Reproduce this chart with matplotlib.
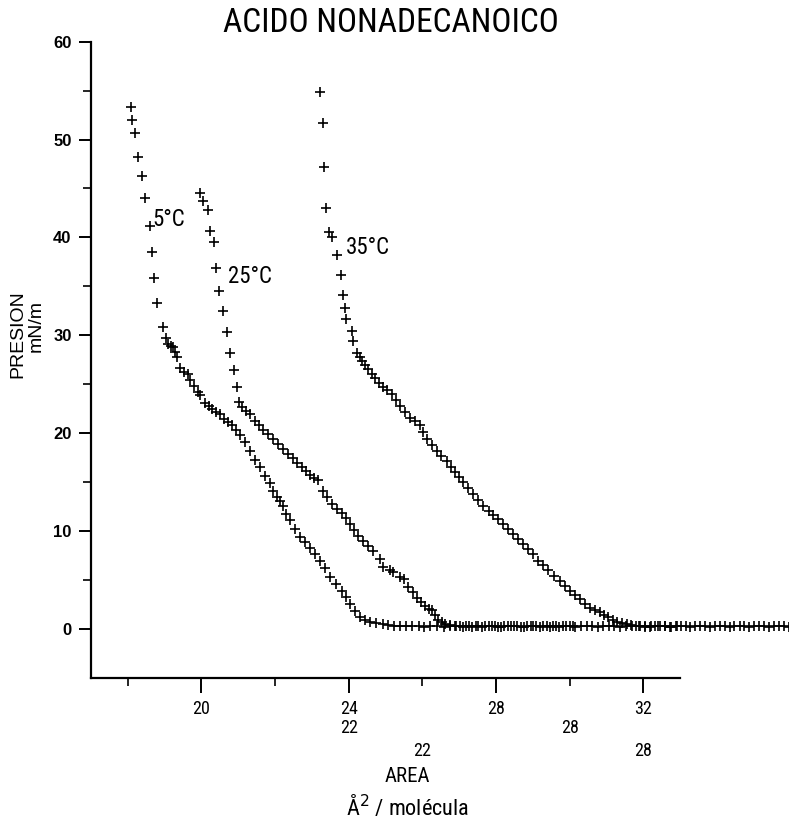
import matplotlib
matplotlib.use("Agg")
import matplotlib.pyplot as plt
from matplotlib import font_manager
from matplotlib.font_manager import FontProperties
from matplotlib.ticker import FixedLocator

# ---------------- data ----------------
area_5 = [18.08, 18.12, 18.19, 18.27, 18.38, 18.46, 18.60, 18.67, 18.71, 18.78,
          18.95, 19.04, 19.10, 19.16, 19.22, 19.28, 19.33, 19.42, 19.52, 19.64,
          19.69, 19.80, 19.90, 19.96, 20.10, 20.20, 20.28, 20.40, 20.50, 20.62,
          20.72, 20.82, 20.95, 21.05, 21.18, 21.32, 21.45, 21.59, 21.72, 21.86,
          21.95, 22.04, 22.13, 22.22, 22.31, 22.40, 22.55, 22.68, 22.80, 22.95,
          23.08, 23.22, 23.35, 23.49, 23.65, 23.81, 23.92, 24.04, 24.18, 24.31,
          24.45, 24.58, 24.75, 24.93]
pres_5 = [53.3, 52.0, 50.7, 48.2, 46.3, 44.0, 41.2, 38.5, 35.9, 33.3,
          30.9, 29.7, 29.1, 28.9, 28.8, 28.3, 27.8, 26.7, 26.3, 26.1,
          25.4, 24.8, 24.2, 23.9, 23.1, 22.8, 22.5, 22.2, 22.0, 21.5,
          21.1, 20.8, 20.3, 19.8, 19.1, 18.2, 17.3, 16.5, 15.6, 14.9,
          14.1, 13.5, 13.1, 12.6, 11.8, 11.1, 10.2, 9.4, 8.9, 8.3,
          7.7, 7.0, 6.2, 5.3, 4.6, 3.9, 3.3, 2.6, 1.8, 1.2,
          0.9, 0.7, 0.6, 0.5]
base_area_5 = [25.08, 25.22, 25.40, 25.55, 25.72, 25.90, 26.05, 26.22, 26.40, 26.58,
               26.75, 26.92, 27.10, 27.28, 27.45, 27.62, 27.80, 27.98, 28.15, 28.32,
               28.50, 28.68, 28.85, 29.02, 29.20, 29.38, 29.55, 29.72, 29.90, 30.08]
base_pres_5 = [0.4, 0.3, 0.3, 0.35, 0.3, 0.3, 0.25, 0.3, 0.3, 0.25,
               0.3, 0.3, 0.25, 0.3, 0.3, 0.25, 0.3, 0.3, 0.25, 0.3,
               0.3, 0.25, 0.3, 0.3, 0.25, 0.3, 0.3, 0.25, 0.3, 0.3]

area_25 = [19.96, 20.05, 20.18, 20.23, 20.34, 20.39, 20.48, 20.59, 20.70, 20.77,
           20.88, 20.97, 21.03, 21.09, 21.20, 21.32, 21.45, 21.56, 21.68, 21.80,
           21.95, 22.08, 22.22, 22.35, 22.49, 22.60, 22.72, 22.84, 22.95, 23.06,
           23.17, 23.31, 23.42, 23.54, 23.68, 23.81, 23.92, 24.04, 24.15, 24.26,
           24.40, 24.53, 24.67, 24.85, 24.94, 25.12, 25.21, 25.39, 25.50, 25.62,
           25.74, 25.85, 25.96, 26.07, 26.17, 26.26, 26.35, 26.43, 26.53, 26.62]
pres_25 = [44.5, 43.7, 42.8, 40.7, 39.5, 36.9, 34.5, 32.5, 30.3, 28.2,
           26.5, 24.7, 23.2, 22.7, 22.3, 22.0, 21.3, 20.8, 20.3, 19.9,
           19.4, 18.9, 18.4, 17.9, 17.5, 17.0, 16.5, 16.1, 15.7, 15.4,
           15.2, 14.1, 13.5, 12.8, 12.3, 11.9, 11.3, 10.7, 10.1, 9.5,
           9.0, 8.5, 8.0, 7.2, 6.3, 6.0, 5.8, 5.3, 5.1, 4.3,
           3.8, 3.2, 2.8, 2.4, 2.0, 1.9, 1.4, 0.9, 0.7, 0.5]
base_area_25 = [26.75, 26.88, 27.02, 27.18, 27.35, 27.52, 27.70, 27.88, 28.05, 28.22,
                28.40, 28.58, 28.76, 28.94, 29.10, 29.28, 29.46, 29.64, 29.82, 30.00,
                30.16, 30.32, 30.48, 30.62, 30.78, 30.92, 31.08, 31.22, 31.38, 31.52,
                31.70, 31.88, 32.05, 32.22, 32.40, 32.58, 32.75, 32.92]
base_pres_25 = [0.4, 0.3, 0.35, 0.3, 0.25, 0.3, 0.35, 0.3, 0.25, 0.3,
                0.35, 0.3, 0.25, 0.3, 0.35, 0.3, 0.25, 0.3, 0.35, 0.3,
                0.25, 0.3, 0.35, 0.3, 0.25, 0.3, 0.35, 0.3, 0.25, 0.3,
                0.35, 0.3, 0.25, 0.3, 0.35, 0.3, 0.25, 0.3]

area_35 = [23.22, 23.31, 23.34, 23.38, 23.47, 23.54, 23.67, 23.78, 23.85, 23.90,
           23.94, 24.08, 24.12, 24.23, 24.30, 24.35, 24.44, 24.53, 24.62, 24.71,
           24.82, 24.94, 25.05, 25.17, 25.28, 25.39, 25.53, 25.67, 25.80, 25.94,
           26.03, 26.12, 26.25, 26.39, 26.52, 26.66, 26.78, 26.89, 27.00, 27.11,
           27.25, 27.39, 27.52, 27.66, 27.80, 27.93, 28.06, 28.20, 28.33, 28.47,
           28.60, 28.74, 28.88, 29.02, 29.15, 29.28, 29.42, 29.58, 29.74, 29.88,
           30.01, 30.15, 30.29, 30.42, 30.56, 30.70, 30.83, 30.94, 31.05, 31.17,
           31.28, 31.42, 31.55]
pres_35 = [54.9, 51.7, 47.2, 43.0, 40.6, 40.0, 38.2, 36.2, 34.1, 32.8,
           31.7, 30.4, 29.4, 28.2, 27.8, 27.4, 27.0, 26.6, 26.1, 25.6,
           25.1, 24.7, 24.4, 24.0, 23.4, 22.8, 22.2, 21.6, 21.2, 20.8,
           20.1, 19.4, 18.8, 18.2, 17.7, 17.2, 16.6, 16.0, 15.5, 15.0,
           14.4, 13.8, 13.2, 12.6, 12.1, 11.6, 11.2, 10.7, 10.2, 9.7,
           9.2, 8.7, 8.2, 7.7, 7.0, 6.5, 6.0, 5.4, 4.9, 4.4,
           3.9, 3.5, 3.1, 2.6, 2.2, 1.9, 1.7, 1.4, 1.2, 0.9,
           0.7, 0.6, 0.5]
base_area_35 = [31.68, 31.80, 31.92, 32.05, 32.18, 32.32, 32.45, 32.60, 32.74, 32.88,
                33.02, 33.15, 33.28, 33.42, 33.55, 33.68, 33.82, 33.95, 34.08, 34.22,
                34.35, 34.48, 34.62, 34.75, 34.88, 35.02, 35.15, 35.28, 35.42, 35.55,
                35.68, 35.82, 35.95]
base_pres_35 = [0.4, 0.35, 0.3, 0.3, 0.25, 0.35, 0.3, 0.3, 0.25, 0.35,
                0.3, 0.3, 0.25, 0.35, 0.3, 0.3, 0.25, 0.35, 0.3, 0.3,
                0.25, 0.35, 0.3, 0.3, 0.25, 0.35, 0.3, 0.3, 0.25, 0.35,
                0.3, 0.3, 0.25]

curve_labels = ["5°C", "25°C", "35°C"]
label_pos = [(18.68, 41.8), (20.72, 36.0), (23.92, 39.0)]

x_major = [20, 24, 28, 32]
x_minor = [18, 22, 26, 30]
y_major = [0, 10, 20, 30, 40, 50, 60]
y_minor = [5, 15, 25, 35, 45, 55]
# stray tick labels of the overlaid scales
extra_x_labels = ["22", "28", "22", "28"]
extra_x_pos = [24.0, 30.0, 26.0, 32.0]
extra_x_rows = [1, 1, 2, 2]

title = "ACIDO NONADECANOICO"

# ---------------- fonts ----------------
def pick_condensed():
    prefs = ["Liberation Sans Narrow", "Roboto Condensed", "Open Sans Condensed",
             "Arial Narrow"]
    fl = font_manager.fontManager.ttflist
    for p in prefs:
        for f in fl:
            if f.name == p and f.weight in (400, "normal", "regular") and f.style == "normal":
                return FontProperties(fname=f.fname), 1.0
    for f in fl:
        if f.name == "DejaVu Sans" and "Condensed" in f.fname and "Bold" not in f.fname \
                and "Oblique" not in f.fname:
            return FontProperties(fname=f.fname), 0.93
    for f in fl:
        if ("Condensed" in f.fname or "Narrow" in f.fname) and "Bold" not in f.fname \
                and "Italic" not in f.fname and "Oblique" not in f.fname:
            return FontProperties(fname=f.fname), 1.0
    return FontProperties(family="Liberation Sans"), 0.85

cond_fp, cond_scale = pick_condensed()


def cfp(size):
    fp = cond_fp.copy()
    fp.set_size(size * cond_scale)
    return fp


regular = "Liberation Sans"

# ---------------- figure ----------------
fig = plt.figure(figsize=(7.89, 8.27), dpi=100)
ax = fig.add_axes([91 / 789, 1 - 678 / 827, (680 - 91) / 789, (678 - 41.6) / 827])
ax.set_xlim(17, 33)
ax.set_ylim(-5, 60)

for sp in ["top", "right"]:
    ax.spines[sp].set_visible(False)
for sp in ["left", "bottom"]:
    ax.spines[sp].set_linewidth(1.6)
    ax.spines[sp].set_color("black")

mk = dict(marker="+", linestyle="none", color="black", markersize=7,
          markeredgewidth=1.2, clip_on=False)
ax.plot(area_5 + base_area_5, pres_5 + base_pres_5, **mk)
ax.plot(area_25 + base_area_25, pres_25 + base_pres_25, **mk)
ax.plot(area_35 + base_area_35, pres_35 + base_pres_35, **mk)

for lab, (xx, yy) in zip(curve_labels, label_pos):
    ax.text(xx, yy, lab, fontproperties=cfp(16.5), ha="left", va="center")

ax.xaxis.set_major_locator(FixedLocator(x_major))
ax.xaxis.set_minor_locator(FixedLocator(x_minor))
ax.yaxis.set_major_locator(FixedLocator(y_major))
ax.yaxis.set_minor_locator(FixedLocator(y_minor))
ax.tick_params(axis="x", which="major", direction="out", length=11, width=1.4,
               pad=5)
ax.tick_params(axis="x", which="minor", direction="out", length=6, width=1.2)
ax.tick_params(axis="y", which="major", direction="out", length=9, width=1.4,
               pad=5)
ax.tick_params(axis="y", which="minor", direction="out", length=6, width=1.2)
for t in ax.get_xticklabels():
    t.set_fontproperties(cfp(13))
for t in ax.get_yticklabels():
    t.set_family(regular)
    t.set_fontweight("bold")
    t.set_fontsize(12)

row_y = {1: -0.079, 2: -0.115}
for lab, xx, r in zip(extra_x_labels, extra_x_pos, extra_x_rows):
    ax.annotate(lab, xy=(xx, row_y[r]), xycoords=("data", "axes fraction"),
                ha="center", va="center", fontproperties=cfp(13),
                annotation_clip=False)

ax.annotate("AREA", xy=(0.5375, -0.155), xycoords="axes fraction",
            ha="center", va="center", fontproperties=cfp(15),
            annotation_clip=False)
ax.annotate("Å$^2$ / molécula", xy=(0.5375, -0.202), xycoords="axes fraction",
            ha="center", va="center", fontproperties=cfp(16),
            annotation_clip=False)

fig.text(18 / 789, 1 - 334 / 827, "PRESION", rotation=90, ha="center", va="center",
         fontsize=14, family=regular)
fig.text(36 / 789, 1 - 326 / 827, "mN/m", rotation=90, ha="center", va="center",
         fontsize=14, family=regular)

fig.text(391 / 789, 1 - 23 / 827, title, ha="center", va="center",
         fontproperties=cfp(24))

fig.savefig("out.png", dpi=100, facecolor="white")
